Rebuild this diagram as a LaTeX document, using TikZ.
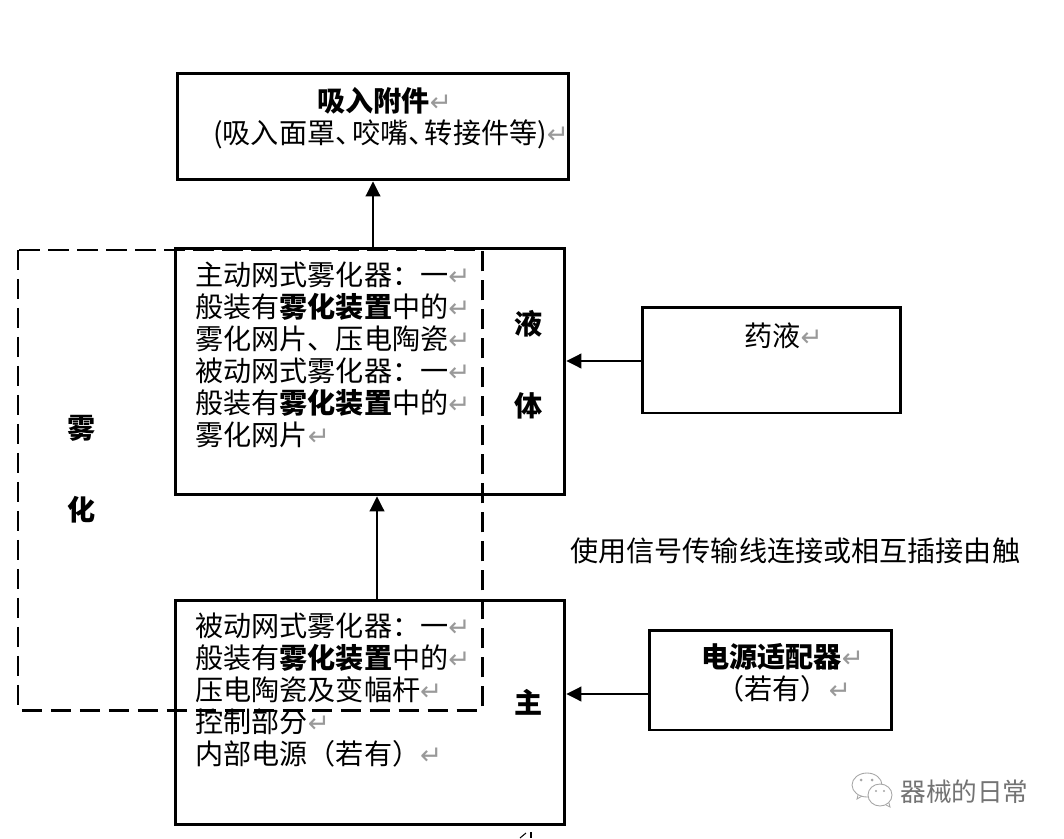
\documentclass[tikz,border=0pt]{standalone}
\usepackage{fontspec}
\setmainfont{Noto Sans CJK SC}
\newfontfamily\retfont{DejaVu Sans}
\usetikzlibrary{arrows.meta}
\newcommand{\ret}{{\retfont\color{black!40}\fontsize{15}{11}\selectfont ↵}}
\newcommand{\dun}{、\kern-6.5pt}
\tikzset{
  blockbox/.style={draw, line width=1.7pt, inner sep=0pt},
  bodytext/.style={anchor=north west, align=left, inner sep=0pt, font=\fontsize{16}{18.14}\selectfont},
  linetext/.style={anchor=west, inner sep=0pt, font=\fontsize{16}{18.14}\selectfont},
  sidetext/.style={inner sep=0pt, font=\fontsize{16}{18.14}\selectfont\bfseries},
  flowarrow/.style={-{Triangle[width=8.5pt,length=8.5pt]}, line width=0.6pt},
  markgray/.style={draw=black!35, line width=0.5pt}
}
\begin{document}
\begin{tikzpicture}[x=0.02cm, y=-0.02cm]
        \useasboundingbox (0,0) rectangle (1064,838);

        % Blocchi
        \node[blockbox, minimum width=7.84cm, minimum height=2.14cm] (inhale) at (373,126.5) {};
        \node[blockbox, minimum width=7.80cm, minimum height=4.94cm] (liquid) at (370,371.5) {};
        \node[blockbox, minimum width=5.18cm, minimum height=2.12cm] (drug) at (771.5,360) {};
        \node[blockbox, minimum width=7.80cm, minimum height=4.50cm] (host) at (370,712.5) {};
        \node[blockbox, minimum width=4.86cm, minimum height=2.00cm] (power) at (770.5,680) {};

        % Frecce
        \draw[flowarrow] (liquid.north -| inhale.south) -- (inhale.south);
        \draw[flowarrow] ([xshift=0.14cm]host.north) -- ([xshift=0.14cm]liquid.south);
        \draw[flowarrow] ([yshift=-0.02cm]drug.west) -- ([yshift=-0.02cm]drug.west -| liquid.east);
        \draw[flowarrow] ([yshift=-0.28cm]power.west) -- ([yshift=-0.28cm]power.west -| host.east);

        % Zona tratteggiata
        \draw[line width=1.7pt, dash pattern=on 11.5pt off 5pt] (18,250) rectangle (482,710);

        % Testi dei blocchi
        \node[linetext] (inhaletitle) at (317,101) {\textbf{吸入附件}\ret};
        \node[linetext] (inhalesub) at (213,134) {(吸入面罩\dun 咬嘴\dun 转接件等)\ret};
        \node[bodytext] (liquidtext) at (195,262) {主动网式雾化器：一\ret\\
          般装有\textbf{雾化装置}中的\ret\\
          雾化网片、压电陶瓷\ret\\
          被动网式雾化器：一\ret\\
          般装有\textbf{雾化装置}中的\ret\\
          雾化网片\ret};
        \node[bodytext] (hosttext) at (195,613) {被动网式雾化器：一\ret\\
          般装有\textbf{雾化装置}中的\ret\\
          压电陶瓷及变幅杆\ret\\
          控制部分\ret\\
          内部电源（若有）\ret};
        \node[linetext] (drugtext) at (744,336) {药液\ret};
        \node[linetext] (powertitle) at (701,657) {\textbf{电源适配器}\ret};
        \node[linetext] (powersub) at (716,689) {（若有）\ret};

        % Testi laterali
        \node[sidetext] (atom1) at (82,428) {雾};
        \node[sidetext] (atom2) at (82,510) {化};
        \node[sidetext] (liquid1) at (529,324) {液};
        \node[sidetext] (liquid2) at (529,406) {体};
        \node[sidetext] (host1) at (529,702) {主};
        \node[linetext] (linknote) at (570,551) {使用信号传输线连接或相互插接由触};

        % Filigrana
        \draw[markgray] (867,785) ellipse (15 and 12);
        \draw[markgray] (858,795) -- (857,799) -- (862,796);
        \draw[markgray, fill=white] (880,795) ellipse (12 and 11);
        \draw[markgray] (886,805) -- (890,807) -- (889,803);
        \fill[black!35] (861,780) circle (1.5) (872,780) circle (1.5) (876,791) circle (1.2) (884,791) circle (1.2);
        \node[linetext, text=black!55, font=\fontsize{14.6}{16}\selectfont] (mark) at (900,792) {器械的日常};

        % Resto in basso
        \draw[line width=0.6pt] (531,832) -- (531,838);
        \draw[line width=0.6pt] (520,838) -- (526,833);
\end{tikzpicture}
\end{document}
